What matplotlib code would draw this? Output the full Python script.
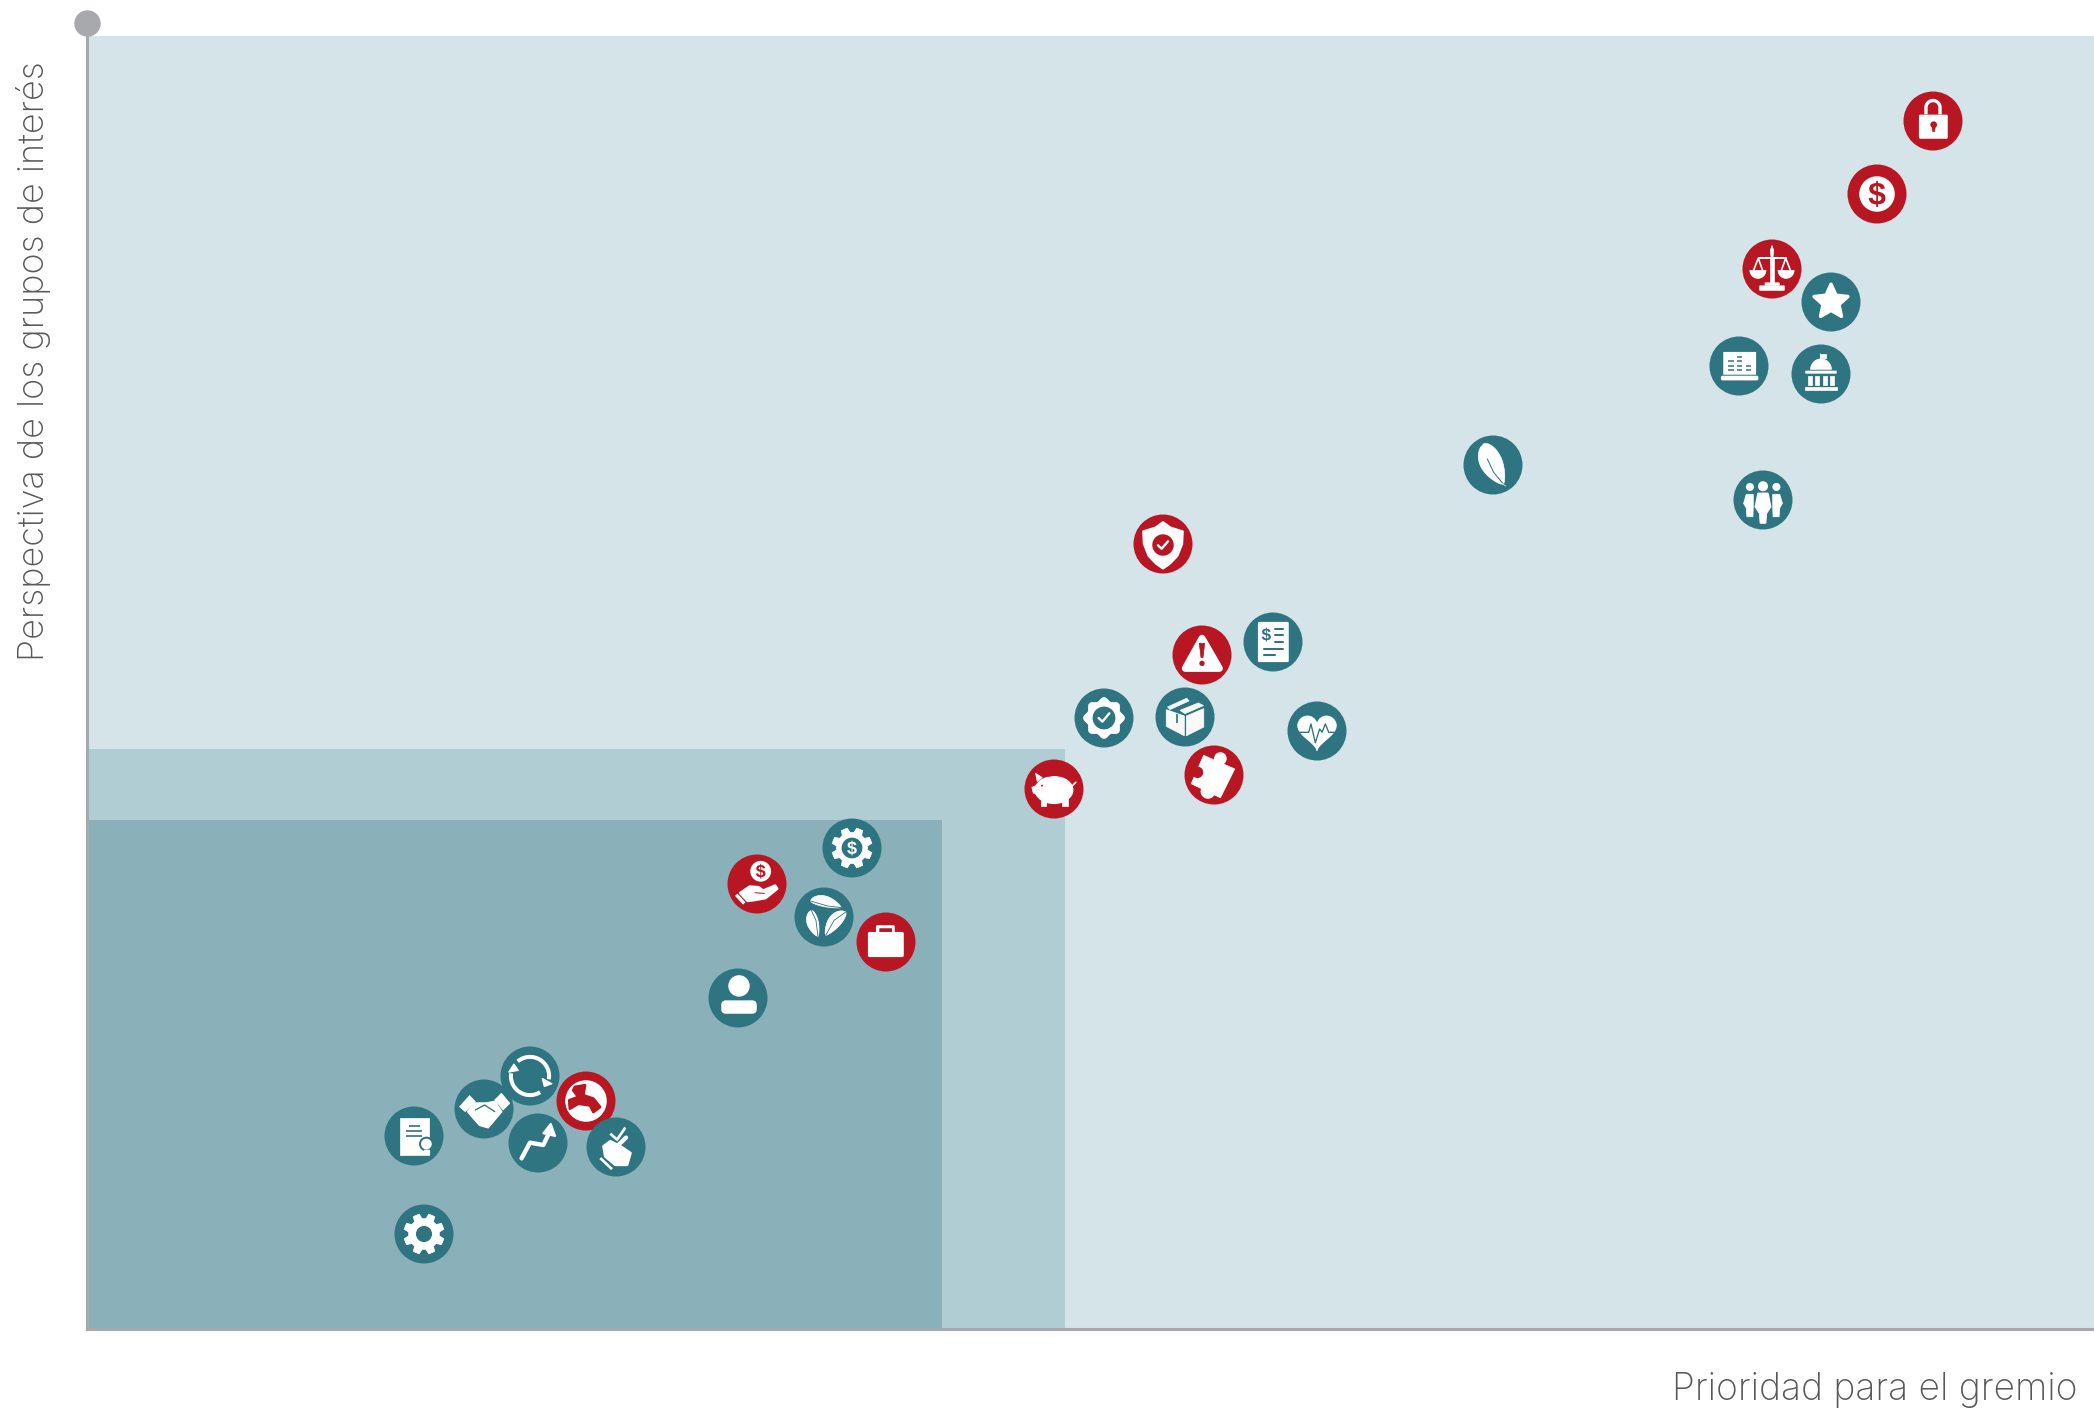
import numpy as np
import matplotlib
matplotlib.use("Agg")
import matplotlib.pyplot as plt
from matplotlib.font_manager import FontProperties
from matplotlib.patches import Circle, FancyBboxPatch, PathPatch, Polygon, Rectangle
from matplotlib.path import Path
from matplotlib.textpath import TextPath
from matplotlib.transforms import Affine2D

# ---- Data (axis has no ticks, so units are arbitrary) ----
topics = [
    "lock", "dollar", "scale", "star", "laptop", "capitol", "leaf", "people",
    "shield", "warning", "invoice", "badge", "box", "heart", "puzzle", "piggy",
    "gear_dollar", "hand_dollar", "leaves", "briefcase", "person",
    "handshake", "refresh", "globe", "trend", "hand_check", "doc", "gear",
]
prioridad = [
    1846, 1790, 1685, 1744, 1652, 1734, 1406, 1676,
    1076, 1115, 1186, 1017, 1098, 1230, 1127, 967,
    765, 670, 737, 799, 651,
    397, 443, 499, 451, 529, 327, 337,
]
perspectiva = [
    1208, 1135, 1060, 1027, 963, 955, 864, 829,
    785, 674, 687, 611, 612, 598, 554, 540,
    481, 445, 412, 387, 331,
    220, 253, 228, 186, 182, 193, 95,
]
destacado = [
    1, 1, 1, 0, 0, 0, 0, 0,
    1, 1, 0, 0, 0, 0, 1, 1,
    0, 1, 0, 1, 0,
    0, 0, 1, 0, 0, 0, 0,
]

# importance zones: (x limit, y limit)
zone_x = [2007, 978, 855]
zone_y = [1293, 580, 509]

X_MAX = 2007
Y_MAX = 1306
RADIUS = 29.5

LIGHT = "#d5e4e9"
MID = "#b0cdd4"
DARK = "#8ab0b9"
TEAL = "#2e7481"
RED = "#b81622"
GREY = "#a7a9ac"
WHITE = "#ffffff"
TEXT = "#58595b"

plt.rcParams["font.family"] = ["Inter", "Lato", "DejaVu Sans"]

fig = plt.figure(figsize=(20.94, 14.08), dpi=100)
ax = fig.add_axes([87 / 2094, 79 / 1408, 2007 / 2094, 1306 / 1408])
ax.set_xlim(0, X_MAX)
ax.set_ylim(0, Y_MAX)


# ---- Small drawing helpers, icons use a local grid where circle radius = 88 ----
def local(x, y):
    return Affine2D().scale(RADIUS / 88).translate(x, y) + ax.transData


def poly(tf, pts, c=WHITE, edge=0.5):
    ax.add_patch(Polygon(pts, closed=True, fc=c, ec=c, lw=edge, joinstyle="round", transform=tf, zorder=3))


def disc(tf, x, y, r, c=WHITE):
    ax.add_patch(Circle((x, y), r, fc=c, ec="none", transform=tf, zorder=3))


def stroke(tf, pts, w, c=WHITE, cap="round"):
    pts = np.asarray(pts, dtype=float)
    ax.add_patch(PathPatch(Path(pts), fc="none", ec=c, lw=w * 0.2414, capstyle=cap,
                           joinstyle="round", transform=tf, zorder=3))


def rrect(tf, x0, y0, x1, y1, rad=4, c=WHITE):
    ax.add_patch(FancyBboxPatch((x0 + rad, y0 + rad), x1 - x0 - 2 * rad, y1 - y0 - 2 * rad,
                                boxstyle=f"round,pad={rad},rounding_size={rad}",
                                fc=c, ec="none", transform=tf, zorder=3))


def arc(cx, cy, r, a0, a1, n=40):
    t = np.radians(np.linspace(a0, a1, n))
    return np.column_stack([cx + r * np.cos(t), cy + r * np.sin(t)])


def gear_pts(teeth, r_out, r_in):
    step = 360 / teeth
    pts = []
    for i in range(teeth):
        a = i * step + step / 2
        for da, r in [(-0.34, r_in), (-0.2, r_out), (0.2, r_out), (0.34, r_in)]:
            t = np.radians(a + da * step)
            pts.append((r * np.cos(t), r * np.sin(t)))
    return pts


def dollar_sign(tf, x, y, h, c):
    tp = TextPath((0, 0), "$", size=h, prop=FontProperties(family="Liberation Sans", weight="bold"))
    box = tp.get_extents()
    k = h / box.height
    move = Affine2D().translate(-box.x0 - box.width / 2, -box.y0 - box.height / 2).scale(k).translate(x, y)
    ax.add_patch(PathPatch(tp, fc=c, ec="none", transform=move + tf, zorder=3))


def leaf_pts(p0, p1, w1, w2, n=24):
    p0, p1 = np.array(p0, float), np.array(p1, float)
    d = p1 - p0
    nrm = np.array([-d[1], d[0]]) / np.hypot(*d)
    t = np.linspace(0, 1, n)
    base = p0 + np.outer(t, d)
    prof = np.sin(np.pi * t ** 0.8) ** 0.7
    side1 = base + np.outer(w1 * prof, nrm)
    side2 = base - np.outer(w2 * prof, nrm)
    return np.vstack([side1, side2[::-1]])


# ---- Icons ----
def icon_lock(t, bg):
    rrect(t, -42, -53, 44, 19, 4)
    stroke(t, np.vstack([[[-21, 20]], arc(0, 40, 21, 180, 0), [[21, 20]]]), 10, cap="butt")
    disc(t, 2, -11, 10, bg)
    poly(t, [(-3, -12), (7, -12), (5, -31), (-1, -31)], bg)


def icon_dollar(t, bg):
    disc(t, 0, 0, 53)
    dollar_sign(t, 0, 0, 78, bg)


def icon_scale(t, bg):
    poly(t, [(-6, 36), (6, 36), (6, -44), (-6, -44)])
    poly(t, [(0, 70), (5, 56), (3, 36), (-3, 36), (-5, 56)])
    stroke(t, [(-40, 34), (41, 34)], 6)
    rrect(t, -22, -50, 23, -40, 3)
    rrect(t, -38, -65, 38, -49, 3)
    for s in (-1, 1):
        poly(t, arc(s * 42, -4, 24, 180, 360))
        stroke(t, [(s * 55, -4), (s * 41, 32), (s * 28, -4)], 5)


def icon_star(t, bg):
    pts = []
    for i in range(10):
        a = np.radians(90 + i * 36)
        r = 53 if i % 2 == 0 else 25
        pts.append((r * np.cos(a), r * np.sin(a)))
    poly(t, pts, edge=2.5)


def icon_laptop(t, bg):
    rrect(t, -47, -26, 51, 42, 1)
    rrect(t, -54, -43, 58, -29, 5)
    rows = {-24: [875, 888, 901], 2: [862, 875, 888, 901], 28: [888, 901]}
    for xc, ys in rows.items():
        for y in ys:
            stroke(t, [(xc - 8, 889 - y), (xc + 8, 889 - y)], 4.5, bg, cap="butt")


def icon_capitol(t, bg):
    stroke(t, [(-2, 42), (-2, 62)], 2.5, cap="butt")
    poly(t, [(-3, 60), (15, 60), (15, 47), (-3, 47)])
    poly(t, np.vstack([arc(0, 14, 31, 180, 0), [(0, 14)]]))
    rrect(t, -47, 1, 47, 10, 2)
    for xc in (-32, -11, 11, 32):
        poly(t, [(xc - 6, -7), (xc + 6, -7), (xc + 6, -32), (xc - 6, -32)])
    poly(t, [(-47, -38), (47, -38), (47, -49), (-47, -49)])


def icon_leaf(t, bg):
    poly(t, leaf_pts((-27, 64), (31, -58), 28, 38))
    stroke(t, [(-17, 18), (2, -22), (36, -63)], 3, bg)
    stroke(t, [(27, -55), (38, -63)], 2)


def icon_people(t, bg):
    disc(t, -39, 39, 12)
    disc(t, 0, 41, 15)
    disc(t, 40, 39, 12)
    for s in (-1, 1):
        poly(t, [(s * 29, 17), (s * 50, 17), (s * 58, -10), (s * 50, -24), (s * 48, -50), (s * 30, -50), (s * 29, -20)])
    poly(t, [(-14, 19), (14, 19), (22, -20), (9, -40), (7, -68), (-7, -68), (-9, -40), (-22, -20)], edge=1.5)


def icon_shield(t, bg):
    poly(t, [(0, 64), (-22, 48), (-58, 37), (-56, 0), (-42, -35), (-20, -58), (0, -72),
             (20, -58), (42, -35), (56, 0), (58, 37), (22, 48)], edge=2)
    disc(t, 0, -3, 32, bg)
    stroke(t, [(-15, -4), (-4, -14), (15, 8)], 7)


def icon_warning(t, bg):
    poly(t, [(0, 50), (-50, -40), (52, -40)], edge=5)
    poly(t, [(-8, 35), (8, 35), (3, -8), (-3, -8)], bg)
    disc(t, 0, -25, 8, bg)


def icon_invoice(t, bg):
    rrect(t, -45, -60, 47, 60, 4)
    dollar_sign(t, -20, 22, 42, bg)
    for y in (39, 20, 0):
        stroke(t, [(7, y), (30, y)], 6, bg)
    stroke(t, [(-28, -20), (30, -20)], 6, bg)
    stroke(t, [(-28, -39), (6, -39)], 6, bg)


def icon_badge(t, bg):
    a = np.radians(np.linspace(0, 360, 161))
    r = 56 + 5 * np.cos(8 * a)
    poly(t, np.column_stack([r * np.cos(a), r * np.sin(a)]))
    disc(t, 0, 0, 34, bg)
    stroke(t, [(-16, 0), (-5, -11), (16, 14)], 7)


def icon_box(t, bg):
    off = "#f9f9f9"
    poly(t, [(-56, 22), (-2, 3), (-2, -56), (-56, -28)], off)
    poly(t, [(4, 3), (56, 25), (56, -30), (4, -56)], off)
    poly(t, [(-52, 30), (5, 56), (12, 48), (-45, 22)], off)
    poly(t, [(-15, 20), (40, 42), (55, 34), (0, 10)], off)
    stroke(t, [(-25, 10), (-25, -17)], 5, bg, cap="butt")


def icon_heart(t, bg):
    a = np.linspace(0, 2 * np.pi, 120)
    hx = 16 * np.sin(a) ** 3
    hy = 13 * np.cos(a) - 5 * np.cos(2 * a) - 2 * np.cos(3 * a) - np.cos(4 * a)
    poly(t, np.column_stack([hx * 3.6, hy * 3.6 + 2]))
    stroke(t, [(-60, -4), (-25, -4), (-18, 21), (-5, -35), (8, 6), (15, -4), (25, 21), (35, -4), (60, -4)], 4, bg)


def icon_puzzle(t, bg):
    poly(t, [(-31, 59), (62, 18), (19, -68), (-68, -26)])
    disc(t, 19, 49, 19)
    disc(t, -18, -49, 22)
    disc(t, -49, 8, 17, bg)


def icon_piggy(t, bg):
    ax.add_patch(Circle((0, 0), 1, fc=WHITE, ec="none", zorder=3,
                        transform=Affine2D().scale(58, 42).translate(0, -3) + t))
    poly(t, [(-38, -25), (-23, -25), (-23, -51), (-38, -51)])
    poly(t, [(25, -25), (42, -25), (42, -51), (25, -51)])
    poly(t, [(-66, 5), (-50, 12), (-48, -18), (-62, -12)])
    poly(t, [(-55, 47), (-35, 34), (-50, 22)])
    stroke(t, [(50, 5), (65, 20)], 5)
    stroke(t, [(-18, 38), (2, 41), (22, 38)], 3, bg)
    disc(t, -36, 10, 3, bg)


def icon_gear_dollar(t, bg):
    poly(t, gear_pts(8, 61, 47))
    disc(t, 0, 0, 31, bg)
    dollar_sign(t, 0, 0, 44, WHITE)


def icon_hand_dollar(t, bg):
    disc(t, 11, 38, 31)
    dollar_sign(t, 11, 38, 44, bg)
    stroke(t, [(-62, -32), (-38, -58)], 10, cap="butt")
    poly(t, [(-50, -27), (-22, -8), (5, -10), (18, -20), (54, -5), (60, -14), (25, -42), (-10, -48), (-28, -50)], edge=2)
    stroke(t, [(-6, -26), (22, -28)], 3, bg)


def icon_leaves(t, bg):
    top = ((-41, 48), (51, 28))
    left = ((-38, 20), (-18, -58))
    right = ((65, 15), (5, -55))
    poly(t, leaf_pts(top[0], top[1], 24, 8))
    poly(t, leaf_pts(left[0], left[1], 12, 22))
    poly(t, leaf_pts(right[0], right[1], 12, 26))
    stroke(t, [top[0], (10, 33), top[1]], 2.5, bg)
    stroke(t, [left[0], (-24, -10), left[1]], 2.5, bg)
    stroke(t, [right[0], (30, -10), right[1]], 2.5, bg)


def icon_briefcase(t, bg):
    rrect(t, -30, 18, 26, 50, 4)
    rrect(t, -20, 18, 18, 41, 1, bg)
    rrect(t, -54, -45, 53, 30, 5)


def icon_person(t, bg):
    disc(t, 3, 36, 32)
    rrect(t, -50, -47, 56, -7, 14)


def icon_handshake(t, bg):
    poly(t, [(-73, 7), (-43, 40), (-26, 22), (-56, -8)])
    poly(t, [(32, 27), (52, 47), (77, 17), (57, -3)])
    poly(t, [(-48, -8), (-28, 17), (7, 17), (32, 22), (52, -8), (12, -55), (-13, -48)], edge=1.5)
    stroke(t, [(-26, -3), (2, 12), (32, -8)], 4, bg)


def icon_refresh(t, bg):
    stroke(t, arc(0, 0, 57, 130, -10), 12, cap="butt")
    stroke(t, arc(0, 0, 57, 302, 172), 12, cap="butt")
    poly(t, [(37, -8), (65, -23), (43, -31)], edge=1)
    poly(t, [(-63, 12), (-35, 17), (-48, 35)], edge=1)


def icon_globe(t, bg):
    disc(t, 0, 0, 62)
    poly(t, [(-33, 42), (-3, 47), (-8, 17), (22, 7), (42, -18), (22, -33), (12, -13),
             (-23, -8), (-48, -23), (-50, 2), (-23, 12), (-38, 32)], bg, edge=2)


def icon_trend(t, bg):
    stroke(t, [(-49, -46), (-24, 1), (16, -6), (34, 32)], 13)
    poly(t, [(38, 57), (16, 29), (51, 21)], edge=1.5)


def icon_hand_check(t, bg):
    stroke(t, [(-17, 40), (3, 22), (28, 58)], 8, cap="butt")
    stroke(t, [(-5, -5), (30, 28)], 13)
    poly(t, [(-37, 2), (-17, 17), (13, 2), (43, -18), (33, -53), (-2, -53), (-32, -28)], edge=2)
    stroke(t, [(-47, -33), (-12, -66)], 8, cap="butt")


def icon_doc(t, bg):
    poly(t, [(-43, 54), (44, 54), (44, -56), (-43, -56)])
    stroke(t, [(-15, 29), (17, 29)], 5, bg, cap="butt")
    stroke(t, [(-25, 14), (25, 14)], 5, bg, cap="butt")
    stroke(t, [(-25, -1), (25, -1)], 5, bg, cap="butt")
    disc(t, 37, -24, 22, bg)
    poly(t, [(31, -42), (47, -42), (47, -56), (39, -50), (31, -56)])
    disc(t, 37, -24, 16)


def icon_gear(t, bg):
    poly(t, gear_pts(8, 61, 46))
    disc(t, 0, 0, 24, bg)


ICON_DRAW = {
    "lock": icon_lock, "dollar": icon_dollar, "scale": icon_scale, "star": icon_star,
    "laptop": icon_laptop, "capitol": icon_capitol, "leaf": icon_leaf, "people": icon_people,
    "shield": icon_shield, "warning": icon_warning, "invoice": icon_invoice, "badge": icon_badge,
    "box": icon_box, "heart": icon_heart, "puzzle": icon_puzzle, "piggy": icon_piggy,
    "gear_dollar": icon_gear_dollar, "hand_dollar": icon_hand_dollar, "leaves": icon_leaves,
    "briefcase": icon_briefcase, "person": icon_person, "handshake": icon_handshake,
    "refresh": icon_refresh, "globe": icon_globe, "trend": icon_trend,
    "hand_check": icon_hand_check, "doc": icon_doc, "gear": icon_gear,
}

# ---- Zones ----
for zx, zy, col in zip(zone_x, zone_y, [LIGHT, MID, DARK]):
    ax.add_patch(Rectangle((0, 0), zx, zy, fc=col, ec="none", zorder=1))

# ---- Points ----
for name, px, py, hot in zip(topics, prioridad, perspectiva, destacado):
    bg = RED if hot else TEAL
    ax.add_patch(Circle((px, py), RADIUS, fc=bg, ec="none", zorder=3))
    ICON_DRAW[name](local(px, py), bg)

# ---- Axes ----
for side in ("top", "right"):
    ax.spines[side].set_visible(False)
for side in ("left", "bottom"):
    ax.spines[side].set_color(GREY)
    ax.spines[side].set_linewidth(2.2)
    ax.spines[side].set_zorder(2)
ax.set_xticks([])
ax.set_yticks([])
ax.patch.set_visible(False)
ax.plot([0], [Y_MAX], "o", ms=19, color=GREY, mec="none", clip_on=False, zorder=4)

ax.set_xlabel("Prioridad para el gremio", fontsize=26.7, fontweight="light", color=TEXT,
              ha="right", va="baseline")
ax.xaxis.set_label_coords(2078 / 2094, 8 / 1408, transform=fig.transFigure)
ax.set_ylabel("Perspectiva de los grupos de interés", fontsize=25.9, fontweight="light", color=TEXT,
              rotation=90, ha="left", va="baseline", rotation_mode="anchor")
ax.yaxis.set_label_coords(44 / 2094, 1 - 661 / 1408, transform=fig.transFigure)

fig.savefig("out.png", dpi=100)
